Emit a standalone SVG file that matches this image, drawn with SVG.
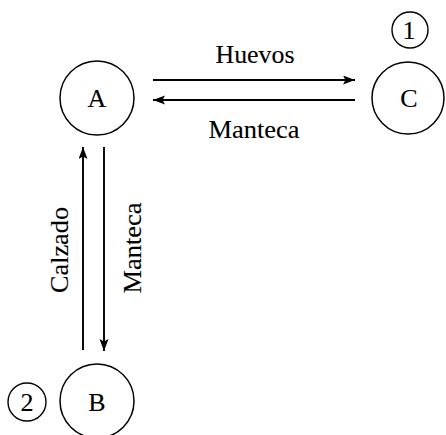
<svg xmlns="http://www.w3.org/2000/svg" width="446" height="435" viewBox="0 0 446 435">
  <style>
    .node { fill: none; stroke: #000; stroke-width: 1.5; }
    .tag { fill: none; stroke: #000; stroke-width: 1.4; }
    .lbl { font-family: "Liberation Serif", "DejaVu Serif", serif; fill: #000; stroke: #000; stroke-width: 0.12; text-anchor: middle; }
    .big { font-size: 26px; }
    .mid { font-size: 25px; }
    .edge { stroke: #000; stroke-width: 1.9; fill: none; }
  </style>
  <defs>
    <marker id="head" markerUnits="userSpaceOnUse" markerWidth="13" markerHeight="10" refX="12" refY="4.5" orient="auto">
      <path d="M0,0 L12,4.5 L0,9 L2.5,4.5 Z" fill="#000"/>
    </marker>
  </defs>
  <rect width="446" height="435" fill="#fff"/>

  <!-- nodes -->
  <g id="node-A">
    <circle class="node" cx="97" cy="98" r="37"/>
    <text class="lbl big" x="97" y="107">A</text>
  </g>
  <g id="node-C">
    <circle class="node" cx="408" cy="98" r="36"/>
    <text class="lbl big" x="409" y="107">C</text>
    <circle class="tag" cx="410" cy="30" r="18"/>
    <text class="lbl big" x="409" y="39">1</text>
  </g>
  <g id="node-B">
    <circle class="node" cx="97" cy="401" r="37"/>
    <text class="lbl big" x="97" y="411">B</text>
    <circle class="tag" cx="27" cy="402" r="19"/>
    <text class="lbl big" x="27" y="411">2</text>
  </g>

  <!-- connectors -->
  <g id="connectors">
    <line class="edge" x1="153" y1="80" x2="355" y2="80" marker-end="url(#head)"/>
    <text class="lbl mid" x="255" y="63" textLength="79" lengthAdjust="spacingAndGlyphs">Huevos</text>

    <line class="edge" x1="355" y1="100" x2="153" y2="100" marker-end="url(#head)"/>
    <text class="lbl mid" x="254" y="138" textLength="91" lengthAdjust="spacingAndGlyphs">Manteca</text>

    <line class="edge" x1="83" y1="350" x2="83" y2="147" marker-end="url(#head)"/>
    <text class="lbl mid" transform="translate(68,250) rotate(-90)" textLength="86" lengthAdjust="spacingAndGlyphs">Calzado</text>

    <line class="edge" x1="104" y1="147" x2="104" y2="351" marker-end="url(#head)"/>
    <text class="lbl mid" transform="translate(141,248) rotate(-90)" textLength="91" lengthAdjust="spacingAndGlyphs">Manteca</text>
  </g>
</svg>
